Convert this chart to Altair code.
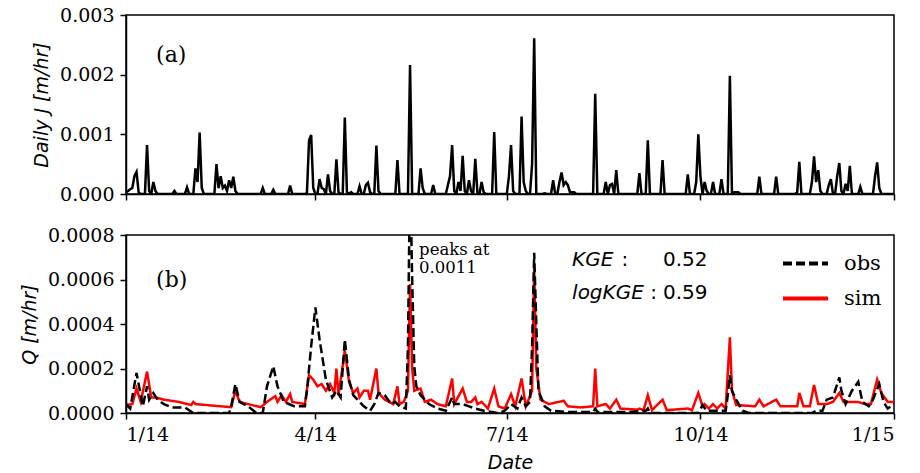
import altair as alt
import pandas as pd

# ---------------- data ----------------
# Panel (a): daily J [m/hr]; days not listed are zero (day 0 = 2014-01-01)
J_days = [0, 1, 2, 3, 4, 5, 6, 10, 11, 13, 14, 23, 29, 33, 34, 35, 36, 43, 44, 45, 46, 47, 48, 49, 50,
          51, 52, 65, 70, 78, 86, 87, 88, 89, 92, 93, 94, 96, 97, 100, 101, 104, 105, 107, 111, 114,
          115, 116, 119, 120, 129, 135, 140, 141, 146, 153, 154, 155, 156, 158, 159, 160, 161, 163,
          164, 166, 167, 169, 170, 175, 182, 183, 184, 188, 189, 190, 193, 194, 199, 203, 206, 207,
          208, 209, 210, 211, 212, 213, 223, 228, 230, 231, 233, 244, 248, 255, 267, 271, 272, 273,
          275, 276, 279, 283, 287, 289, 290, 291, 301, 309, 319, 320, 326, 327, 328, 329, 330, 334,
          335, 338, 339, 340, 342, 343, 344, 349, 356, 357, 358]
J_vals = [0.00003, 0.00005, 0.00008, 0.0001, 0.0003, 0.00037, 0.00003, 0.00082, 0.00005, 0.0002,
          0.00005, 0.00005, 0.00011, 0.00043, 0.0002, 0.00103, 0.0001, 0.0005, 0.0001, 0.0003, 0.0001,
          0.00014, 0.00005, 0.00023, 0.0001, 0.00029, 0.00005, 0.0001, 0.00007, 0.00014, 0.00002,
          0.0009, 0.00099, 0.0001, 0.00025, 0.0001, 0.00008, 0.00033, 0.00005, 0.00058, 0.00003,
          0.00128, 0.00003, 0.00003, 0.00013, 0.00015, 0.00019, 0.00003, 0.00081, 0.00005, 0.00057,
          0.00216, 0.00043, 0.0001, 0.00015, 0.00015, 0.0003, 0.00082, 0.00005, 0.0002, 0.00005,
          0.00064, 0.00005, 0.00023, 0.00005, 0.00059, 0.00003, 0.0002, 0.00003, 0.00104, 0.0003,
          0.00082, 0.00005, 0.0013, 0.0002, 0.00005, 0.0005, 0.00261, 0.00001, 0.00023, 0.0002,
          0.00036, 0.00015, 0.0002, 0.00015, 0.00003, 0.00003, 0.00003, 0.00168, 0.0002, 0.00015,
          0.00017, 0.0004, 0.00035, 0.0009, 0.00057, 0.00033, 0.0002, 0.001, 0.0003, 0.0002, 0.00005,
          0.0002, 0.00025, 0.00198, 0.00003, 0.00003, 0.00003, 0.00029, 0.00029, 0.00003, 0.00054,
          0.0002, 0.00063, 0.0002, 0.0004, 0.00005, 0.00015, 0.00025, 0.0003, 0.00052, 0.00005,
          0.00017, 0.00005, 0.00047, 0.00012, 0.0003, 0.00053, 0.0001]

# Panel (b): discharge Q [m/hr]
obs_days = [0, 2, 5, 8, 10, 11, 13, 15, 18, 22, 28, 32, 49, 50, 52, 54, 58, 62, 65, 67, 70, 72, 75, 80,
            85, 86, 88, 90, 92, 95, 98, 100, 102, 104, 106, 108, 110, 113, 116, 118, 120, 123, 126,
            128, 130, 133, 134, 135, 136, 137, 138, 140, 144, 148, 152, 155, 156, 160, 163, 166, 170,
            177, 180, 183, 186, 188, 190, 192, 193, 194, 195, 196, 199, 202, 210, 222, 223, 224, 240,
            247, 248, 249, 272, 274, 276, 285, 286, 287, 288, 290, 293, 296, 326, 328, 331, 333, 336,
            339, 340, 342, 345, 348, 350, 353, 355, 358, 360, 362, 365]
obs_vals = [0.00004, 0.00002, 0.00018, 0.00003, 0.00012, 0.00006, 0.00009, 0.00006, 0.00004, 0.000025,
            0.000025, 0.0, 0.0, 0.00003, 0.00013, 0.00005, 0.00003, 0.0, 0.0, 0.00012, 0.00021,
            0.00012, 0.00005, 0.00003, 0.00003, 0.0001, 0.0003, 0.000475, 0.00033, 0.00015, 0.00007,
            0.0001, 0.00007, 0.00033, 0.00015, 0.00008, 0.00006, 0.00003, 0.00001, 0.00004, 0.00009,
            0.00008, 0.00004, 0.00005, 0.00003, 0.00002, 0.0003, 0.0011, 0.0006, 0.00021, 0.00012,
            0.00008, 0.00004, 0.00002, 0.00001, 0.00007, 0.00004, 0.00004, 0.00003, 0.00002, 0.00001,
            0.0, 0.00001, 0.00004, 0.00002, 0.00007, 0.00003, 0.00005, 0.0003, 0.00072, 0.0004, 0.0001,
            0.00003, 0.00001, 0.000005, 0.000005, 0.00002, 0.000005, 0.000005, 0.00001, 0.00002, 0.0,
            0.0, 0.000036, 0.00001, 0.00001, 0.00008, 0.00017, 0.0001, 0.00006, 0.00001, 0.0, 0.0,
            0.00001, 0.00001, 0.00006, 0.00007, 0.00016, 0.0001, 0.00004, 0.0001, 0.00014, 0.00005,
            0.00003, 0.00006, 0.00013, 0.00005, 0.00002, 0.00004]

sim_days = [0, 3, 5, 7, 10, 12, 14, 18, 25, 31, 32, 33, 50, 52, 54, 58, 64, 67, 71, 72, 74, 76, 78, 79,
            85, 87, 89, 91, 93, 95, 97, 99, 100, 101, 104, 106, 108, 110, 111, 113, 115, 116, 119, 120,
            123, 127, 129, 130, 132, 134, 135, 136, 137, 140, 142, 145, 148, 152, 155, 156, 160, 162,
            164, 166, 167, 169, 172, 175, 177, 180, 183, 185, 188, 190, 193, 194, 195, 197, 201, 208,
            210, 216, 222, 223, 224, 228, 230, 233, 235, 243, 244, 246, 248, 250, 255, 257, 267, 269,
            272, 274, 275, 277, 279, 281, 283, 285, 287, 288, 290, 299, 301, 303, 309, 311, 319, 320,
            322, 325, 327, 329, 333, 336, 339, 341, 345, 348, 351, 354, 357, 359, 362, 365]
sim_vals = [0.000036, 0.00004, 0.00011, 0.00005, 0.000186, 0.00007, 0.00007, 0.00006, 0.00005, 0.000036,
            0.00005, 0.00004, 0.000026, 0.0001, 0.00005, 0.00004, 0.000026, 0.00005, 0.000076, 0.00005,
            0.00008, 0.00005, 0.000085, 0.00005, 0.00004, 0.00017, 0.00015, 0.00012, 0.00013, 0.0001,
            0.00013, 0.00009, 0.0002, 0.00008, 0.00028, 0.00014, 0.00009, 0.00011, 0.00007, 0.0001,
            0.0001, 0.00006, 0.0002, 0.00009, 0.00006, 0.00004, 0.00012, 0.00004, 0.00005, 0.0001,
            0.00058, 0.0002, 0.0001, 0.00011, 0.00005, 0.00006, 0.00004, 0.00003, 0.000155, 0.00004,
            0.00011, 0.00005, 0.00005, 0.00007, 0.00004, 0.00005, 0.00002, 0.00011, 0.00003, 0.00002,
            0.000085, 0.00003, 0.000155, 0.00003, 0.0001, 0.00065, 0.0002, 0.00006, 0.00004, 0.000055,
            0.00003, 0.000025, 0.00003, 0.0002, 0.00003, 0.00004, 0.00002, 0.00006, 0.00002, 0.000015,
            0.00002, 0.000013, 0.00008, 0.000013, 0.00006, 0.000013, 0.00002, 0.000013, 0.00009,
            0.00003, 0.00004, 0.00002, 0.00004, 0.00002, 0.00004, 0.00002, 0.00034, 0.0001, 0.000036,
            0.00003, 0.00006, 0.00003, 0.00006, 0.00003, 0.00003, 0.00009, 0.00003, 0.00003, 0.000126,
            0.00004, 0.00004, 0.00005, 0.00009, 0.00005, 0.00005, 0.00005, 0.00004, 0.00004, 0.00015,
            0.00009, 0.00005, 0.00005]

# axis ticks
tick_days = [0, 90, 181, 273, 365]
tick_labels = ["1/14", "4/14", "7/14", "10/14", "1/15"]
J_ticks = [0.0, 0.001, 0.002, 0.003]
Q_ticks = [0.0, 0.0002, 0.0004, 0.0006, 0.0008]

kge_value = "0.52"
logkge_value = "0.59"

# ---------------- build tables ----------------
jmap = dict(zip(J_days, J_vals))
dfJ = pd.DataFrame({"day": list(range(0, 366)), "J": [jmap.get(d, 0.0) for d in range(0, 366)]})
dfObs = pd.DataFrame({"day": obs_days, "Q": obs_vals, "series": "obs"})
dfSim = pd.DataFrame({"day": sim_days, "Q": sim_vals, "series": "sim"})

label_expr = "''"
for d, l in reversed(list(zip(tick_days, tick_labels))):
    label_expr = f"datum.value == {d} ? '{l}' : ({label_expr})"

W, H1, H2 = 768, 179, 178
xscale = alt.Scale(domain=[0, 365], nice=False, zero=False)

SERIF = "DejaVu Serif"
SANS = "DejaVu Sans"

# ---------------- top panel ----------------
top_line = alt.Chart(dfJ).mark_line(color="black", strokeWidth=2.5, clip=True).encode(
    x=alt.X("day:Q", scale=xscale,
            axis=alt.Axis(values=tick_days, labels=False, title=None)),
    y=alt.Y("J:Q", scale=alt.Scale(domain=[0, 0.003], nice=False),
            axis=alt.Axis(values=J_ticks, format=".3f", title="Daily J [m/hr]")),
)
top_text = alt.Chart(pd.DataFrame({"day": [14.3], "v": [0.00233], "t": ["(a)"]})).mark_text(
    font=SERIF, fontSize=22, align="left", baseline="middle", color="black"
).encode(x="day:Q", y="v:Q", text="t:N")
top = alt.layer(top_line, top_text).properties(width=W, height=H1)

# ---------------- bottom panel ----------------
color_scale = alt.Scale(domain=["obs", "sim"], range=["black", "red"])
dash_scale = alt.Scale(domain=["obs", "sim"], range=[[9, 4], [1, 0]])
leg = alt.Legend(title=None, orient="none", legendX=655, legendY=224, labelFont=SERIF,
                 labelFontSize=21, symbolType="stroke", symbolSize=2025, symbolStrokeWidth=3.8,
                 rowPadding=-20, labelOffset=14, padding=0)

def qline(df):
    return alt.Chart(df).mark_line(strokeWidth=2.5, clip=True).encode(
        x=alt.X("day:Q", scale=xscale,
                axis=alt.Axis(values=tick_days, labelExpr=label_expr, title="Date",
                              titlePadding=9)),
        y=alt.Y("Q:Q", scale=alt.Scale(domain=[0, 0.0008], nice=False),
                axis=alt.Axis(values=Q_ticks, format=".4f", title="Q [m/hr]")),
        color=alt.Color("series:N", scale=color_scale, legend=leg),
        strokeDash=alt.StrokeDash("series:N", scale=dash_scale, legend=leg),
    )

serif_notes = pd.DataFrame({
    "day": [14.3, 139.3, 139.3],
    "v": [0.000598, 0.000733, 0.000652],
    "t": ["(b)", "peaks at", "0.0011"],
    "s": [22, 16.5, 16.5],
})
notes_serif = alt.Chart(serif_notes).mark_text(font=SERIF, align="left", baseline="middle",
                                               color="black").encode(
    x="day:Q", y="v:Q", text="t:N", size=alt.Size("s:Q", scale=None, legend=None))

italic_notes = pd.DataFrame({"day": [212.0, 212.0], "v": [0.000688, 0.000539], "t": ["KGE", "logKGE"]})
notes_italic = alt.Chart(italic_notes).mark_text(font=SANS, fontStyle="italic", fontSize=20,
                                                 align="left", baseline="middle", color="black").encode(
    x="day:Q", y="v:Q", text="t:N")
plain_notes = pd.DataFrame({"day": [235.5, 249.2, 255.2, 255.2], "v": [0.000688, 0.000539, 0.000688, 0.000539],
                            "t": [":", ":", kge_value, logkge_value]})
notes_plain = alt.Chart(plain_notes).mark_text(font=SANS, fontSize=20, align="left",
                                               baseline="middle", color="black").encode(
    x="day:Q", y="v:Q", text="t:N")

bottom = alt.layer(qline(dfSim), qline(dfObs), notes_serif, notes_italic, notes_plain).properties(
    width=W, height=H2)

chart = alt.vconcat(top, bottom, spacing=41, bounds="flush").properties(
    padding={"left": 19, "top": 5, "right": 5, "bottom": 5},
    background="white",
).configure_view(stroke="black", strokeWidth=1.5).configure_axis(
    grid=False, domainColor="black", domainWidth=1.5, tickColor="black", tickWidth=1.5, tickSize=6,
    labelFont=SERIF, labelFontSize=19, labelColor="black", labelPadding=6,
    titleFont=SANS, titleFontStyle="italic", titleFontWeight="normal", titleFontSize=19,
    titleColor="black", titlePadding=8,
)

chart.save("out.html", embed_options={"renderer": "svg", "actions": False})
